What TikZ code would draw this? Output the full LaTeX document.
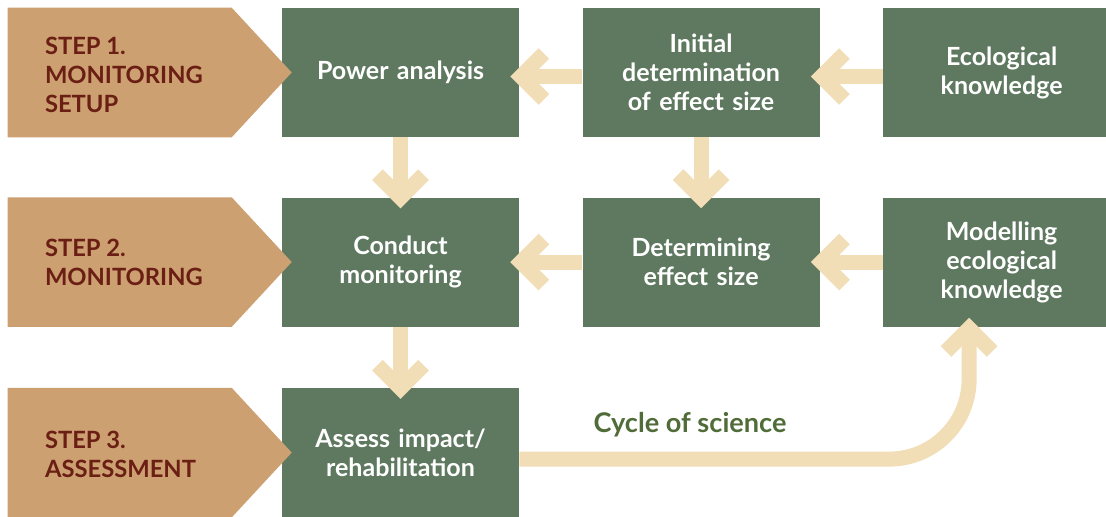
\documentclass[tikz,border=0pt]{standalone}
\usepackage{fontspec}
\setmainfont{Lato}
\usepackage{tikz}
\usetikzlibrary{calc}
\usetikzlibrary{positioning}
\usetikzlibrary{arrows.meta}

\definecolor{stepfill}{RGB}{204,160,112}
\definecolor{steptext}{RGB}{106,30,20}
\definecolor{boxfill}{RGB}{94,121,95}
\definecolor{flowcol}{RGB}{241,221,182}
\definecolor{cyclecol}{RGB}{80,108,56}

\begin{document}
\begin{tikzpicture}[
    box/.style={rectangle, fill=boxfill, minimum width=5.925cm, minimum height=3.225cm, text width=5.5cm, align=center, text=white, inner sep=0pt, font=\fontsize{17.8}{20.6}\selectfont\bfseries},
    steplabel/.style={anchor=west, align=left, text=steptext, inner sep=0pt, font=\fontsize{16.9}{20.6}\selectfont\bfseries},
    flow/.style={draw=flowcol, line width=0.375cm, -{Straight Barb[length=0.575cm, width=1.15cm]}},
    node distance=1.5cm and 1.575cm
]
    \useasboundingbox (0,0) rectangle (27.65,12.9);
    \clip (0,0) rectangle (27.65,12.9);

    \node [box] (power) at (10.0125,11.0875) {Power analysis};
    \node [box, right=of power] (initial) {Initial\\determination\\of effect size};
    \node [box, right=of initial] (ecoknow) {Ecological\\knowledge};
    \node [box, below=of power] (conduct) {Conduct\\monitoring};
    \node [box, right=of conduct] (determ) {Determining\\effect size};
    \node [box, right=of determ] (modelling) {Modelling\\ecological\\knowledge};
    \node [box, below=1.525cm of conduct] (assess) {Assess impact/\\rehabilitation};

    \foreach \row in {power, conduct, assess}
        \fill [stepfill] ($(\row.north west)+(-6.85,0)$) -- ($(\row.north west)+(-1.25,0)$) -- ($(\row.west)+(0.25,0)$)
            -- ($(\row.south west)+(-1.25,0)$) -- ($(\row.south west)+(-6.85,0)$) -- cycle;

    \node [steplabel] (step1) at ($(power.west)+(-5.925,-0.05)$) {STEP 1.\\MONITORING\\SETUP};
    \node [steplabel] (step2) at ($(conduct.west)+(-5.925,0)$) {STEP 2.\\MONITORING};
    \node [steplabel] (step3) at ($(assess.west)+(-5.925,-0.05)$) {STEP 3.\\ASSESSMENT};

    \draw [flow] ([yshift=-0.1cm]initial.west) -- ([xshift=-0.225cm, yshift=-0.1cm]power.east);
    \draw [flow] ([yshift=-0.1cm]ecoknow.west) -- ([xshift=-0.225cm, yshift=-0.1cm]initial.east);
    \draw [flow] (determ.west) -- ([xshift=-0.225cm]conduct.east);
    \draw [flow] (modelling.west) -- ([xshift=-0.225cm]determ.east);
    \draw [flow] (power.south) -- ([yshift=-0.275cm]conduct.north);
    \draw [flow] (initial.south) -- ([yshift=-0.275cm]determ.north);
    \draw [flow] (conduct.south) -- ([yshift=-0.275cm]assess.north);
    \draw [flow, rounded corners=2cm] ([yshift=-0.1625cm]assess.east) -| ([xshift=-0.8125cm, yshift=0.225cm]modelling.south);

    \node [anchor=base, text=cyclecol, inner sep=0pt, font=\fontsize{19.3}{22}\selectfont\bfseries] (cycle) at (17.25,2.075) {Cycle of science};
\end{tikzpicture}
\end{document}
